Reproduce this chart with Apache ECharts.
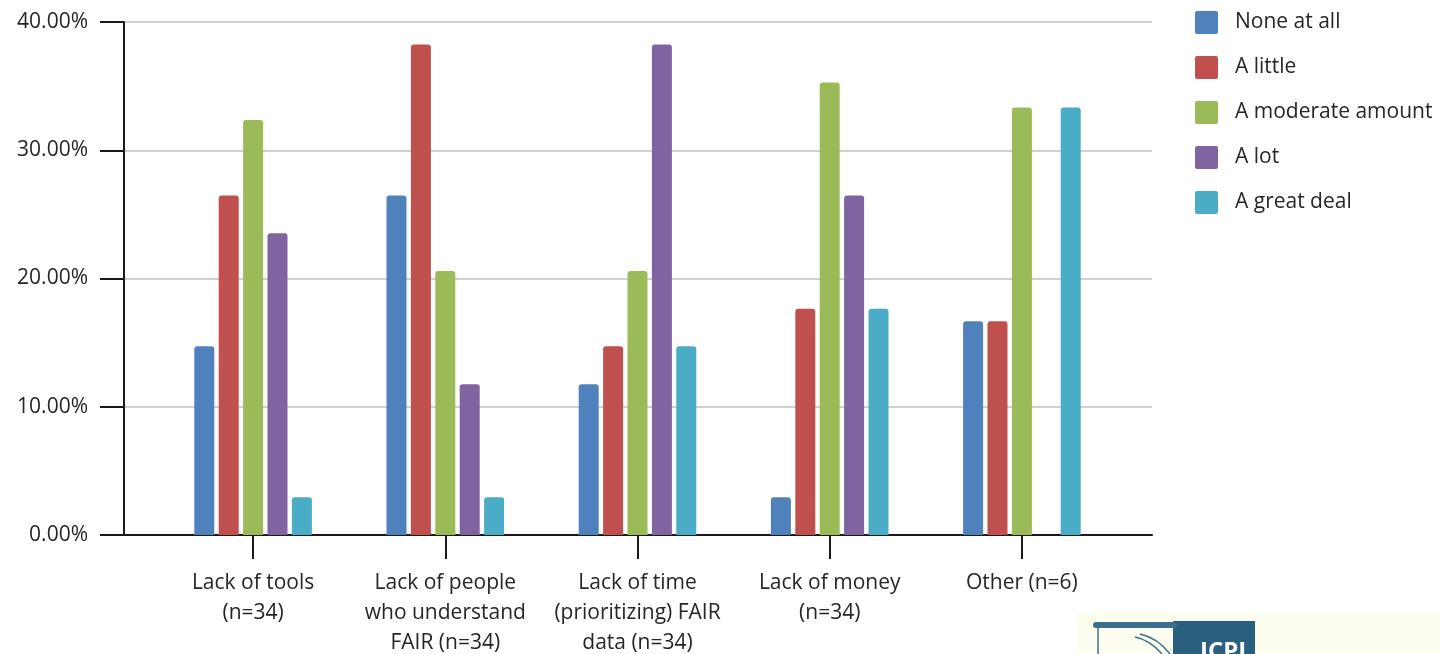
<!DOCTYPE html>
<html>
<head>
<meta charset="utf-8">
<script src="https://cdn.jsdelivr.net/npm/echarts@6/dist/echarts.min.js"></script>
<style>html,body{margin:0;padding:0;background:#fff}#c{width:1440px;height:654px}</style>
</head>
<body>
<div id="c"></div>
<script>
const categories = ['Lack of tools\n(n=34)', 'Lack of people\nwho understand\nFAIR (n=34)', 'Lack of time\n(prioritizing) FAIR\ndata (n=34)', 'Lack of money\n(n=34)', 'Other (n=6)'];
const seriesNames = ['None at all', 'A little', 'A moderate amount', 'A lot', 'A great deal'];
const noneAtAll = [14.71, 26.47, 11.76, 2.94, 16.67];
const aLittle = [26.47, 38.24, 14.71, 17.65, 16.67];
const aModerate = [32.35, 20.59, 20.59, 35.29, 33.33];
const aLot = [23.53, 11.76, 38.24, 26.47, 0];
const aGreatDeal = [2.94, 2.94, 14.71, 17.65, 33.33];
const yTicks = [0, 10, 20, 30, 40];
const colors = ['#4F81BD', '#C0504D', '#9BBB59', '#8064A2', '#4BACC6'];

const seriesData = [noneAtAll, aLittle, aModerate, aLot, aGreatDeal];
const font = '"Open Sans", sans-serif';

const chart = echarts.init(document.getElementById('c'), null, {renderer: 'canvas'});
chart.setOption({
  animation: false,
  color: colors,
  grid: [
    {left: 124, right: 288, top: 22, bottom: 119, containLabel: false, outerBoundsMode: 'none'},
    {left: 157, right: 322, top: 22, bottom: 119, containLabel: false, outerBoundsMode: 'none'}
  ],
  legend: {
    orient: 'vertical',
    left: 1190,
    top: 6,
    itemWidth: 23,
    itemHeight: 23,
    itemGap: 22,
    icon: 'path://M2,0 L21,0 Q23,0 23,2 L23,21 Q23,23 21,23 L2,23 Q0,23 0,21 L0,2 Q0,0 2,0 Z',
    textStyle: {fontFamily: font, fontSize: 21, color: '#262626', padding: [0, 0, 0, 12]},
    data: seriesNames
  },
  xAxis: [
    {
      gridIndex: 0, type: 'category', data: [''],
      axisLine: {show: true, lineStyle: {color: '#1a1a1a', width: 2}},
      axisTick: {show: false}, axisLabel: {show: false}, splitLine: {show: false}
    },
    {
      gridIndex: 1, type: 'category', data: categories,
      axisLine: {show: false},
      axisTick: {show: true, alignWithLabel: true, length: 24, lineStyle: {color: '#1a1a1a', width: 2}},
      axisLabel: {fontFamily: font, fontSize: 21, color: '#262626', lineHeight: 30, margin: 33, interval: 0}
    }
  ],
  yAxis: [
    {
      gridIndex: 0, type: 'value', min: 0, max: 40, interval: 10,
      axisLine: {show: true, lineStyle: {color: '#1a1a1a', width: 2}},
      axisTick: {show: true, length: 24, lineStyle: {color: '#1a1a1a', width: 2}},
      axisLabel: {fontFamily: font, fontSize: 21, color: '#262626', margin: 36,
        formatter: v => yTicks.includes(v) ? v.toFixed(2) + '%' : ''},
      splitLine: {show: true, lineStyle: {color: '#d0d0d0', width: 2}}
    },
    {
      gridIndex: 1, type: 'value', min: 0, max: 40, interval: 10, show: false,
      splitLine: {show: false}
    }
  ],
  series: seriesNames.map((n, i) => ({
    name: n,
    type: 'bar',
    xAxisIndex: 1,
    yAxisIndex: 1,
    data: seriesData[i],
    barWidth: 20,
    barGap: '22%',
    itemStyle: {color: colors[i], borderRadius: [3, 3, 0, 0]}
  })),
  graphic: [
    {type: 'rect', left: 1077, top: 612, shape: {width: 363, height: 42}, style: {fill: '#fdfdf0'}, silent: true},
    {type: 'rect', left: 1173, top: 621, shape: {width: 82, height: 33}, style: {fill: '#2a5f7f'}, silent: true},
    {type: 'rect', left: 1093, top: 622, shape: {width: 84, height: 6, r: 3}, style: {fill: '#3d6f8c'}, silent: true},
    {type: 'line', shape: {x1: 1098, y1: 628, x2: 1098, y2: 654}, style: {stroke: '#3d6f8c', lineWidth: 1.5}, silent: true},
    {type: 'bezierCurve', shape: {x1: 1135, y1: 637, cpx1: 1150, cpy1: 640, x2: 1162, y2: 654}, style: {stroke: '#3d6f8c', lineWidth: 1.5, fill: 'none'}, silent: true},
    {type: 'bezierCurve', shape: {x1: 1140, y1: 634, cpx1: 1158, cpy1: 638, x2: 1170, y2: 654}, style: {stroke: '#3d6f8c', lineWidth: 1.5, fill: 'none'}, silent: true},
    {type: 'text', left: 1200, top: 640, style: {text: 'ICPI', fill: '#ffffff', font: 'bold 24px ' + font}, silent: true}
  ]
});
</script>
</body>
</html>
